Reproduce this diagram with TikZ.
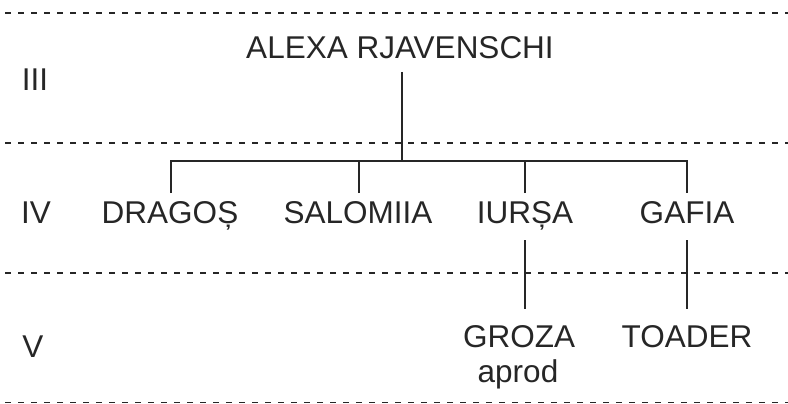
\documentclass[tikz,border=0pt]{standalone}
\usepackage{fontspec}
\setmainfont{Liberation Sans}
\usetikzlibrary{calc}
\definecolor{ink}{HTML}{262626}
\begin{document}
\begin{tikzpicture}[x=1pt,y=-1pt,
  person/.style={font=\fontsize{31.5}{36}\selectfont, text=ink, anchor=base, inner sep=0pt},
  sep/.style={draw=ink, line width=1.3pt, dash pattern=on 6pt off 7pt},
  link/.style={draw=ink, line width=2pt}]
\useasboundingbox (0,0) rectangle (788,404);
% generation separators
\foreach \yy in {13,143,273,402.5} \draw[sep] (5,\yy) -- (788,\yy);
% generation labels
\node[person] (g3) at (35,91) {III};
\node[person] (g4) at (36,223) {IV};
\node[person] (g5) at (33,357) {V};
% persons
\node[person] (alexa) at (400,59) {ALEXA RJAVENSCHI};
\node[person] (dragos) at (170,223) {DRAGOȘ};
\node[person] (salomiia) at (358,223) {SALOMIIA};
\node[person] (iursa) at (525,223) {IURȘA};
\node[person] (gafia) at (687,223) {GAFIA};
\node[person] (groza) at (519,347) {GROZA};
\node[person] (aprod) at (518,382) {aprod};
\node[person] (toader) at (687,347) {TOADER};
% junction coordinates
\coordinate (atop) at ($(alexa.base)+(2,13)$);
\coordinate (j) at ($(alexa.base)+(2,102)$);
\coordinate (jd) at ($(dragos.base)+(1,-62)$);
\coordinate (jg) at ($(gafia.base)+(0,-62)$);
\coordinate (js) at ($(salomiia.base)+(1,-62)$);
\coordinate (ji) at ($(iursa.base)+(0,-62)$);
% connectors
\draw[link] (atop) -- (j);
\draw[link] ($(dragos.base)+(1,-30)$) -- (jd) -- (jg) -- ($(gafia.base)+(0,-30)$);
\draw[link] ($(salomiia.base)+(1,-30)$) -- (js);
\draw[link] ($(iursa.base)+(0,-30)$) -- (ji);
\draw[link] ($(iursa.base)+(0,17)$) -- ($(iursa.base)+(0,86)$);
\draw[link] ($(gafia.base)+(0,17)$) -- ($(toader.base)+(0,-38)$);
\end{tikzpicture}
\end{document}
